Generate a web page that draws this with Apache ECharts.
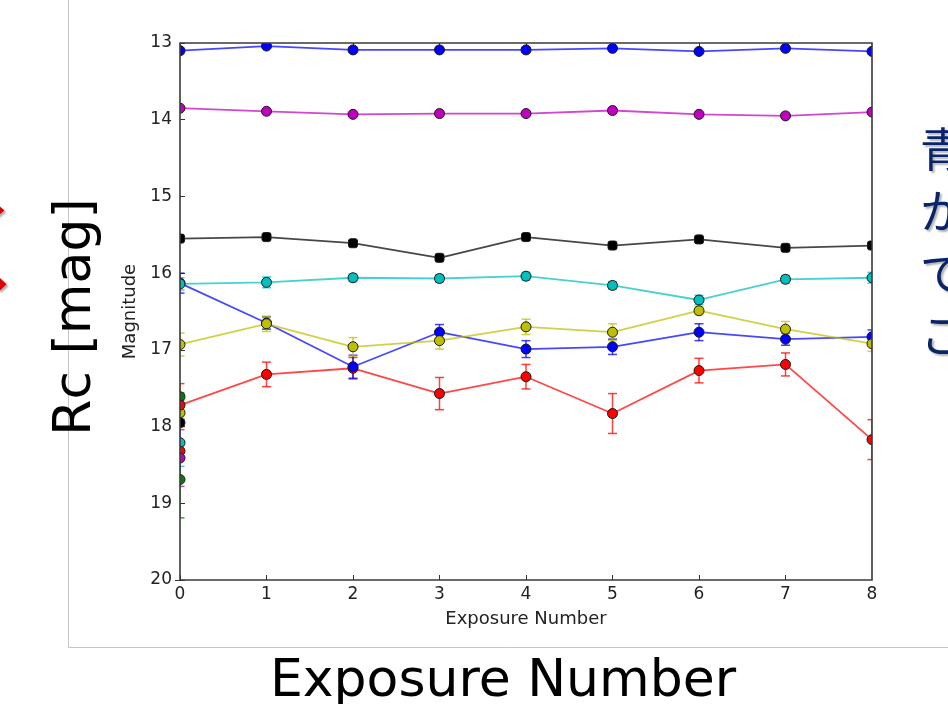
<!DOCTYPE html>
<html><head><meta charset="utf-8">
<script src="https://cdn.jsdelivr.net/npm/echarts@6/dist/echarts.min.js"></script>
<style>html,body{margin:0;padding:0;background:#fff}#c{width:948px;height:704px}</style>
</head><body><div id="c"></div>
<script>
// ---------- data ----------
const exposureNumbers = [0, 1, 2, 3, 4, 5, 6, 7, 8];
const xTickLabels = ['0', '1', '2', '3', '4', '5', '6', '7', '8'];
const yTickLabels = ['13', '14', '15', '16', '17', '18', '19', '20'];

const blueTopMag  = [13.10, 13.04, 13.09, 13.09, 13.09, 13.07, 13.11, 13.07, 13.11];
const blueTopErr  = [0.02, 0.02, 0.02, 0.02, 0.02, 0.02, 0.02, 0.02, 0.02];
const magentaMag  = [13.85, 13.89, 13.93, 13.92, 13.92, 13.88, 13.93, 13.95, 13.90];
const magentaErr  = [0.02, 0.02, 0.02, 0.02, 0.02, 0.02, 0.02, 0.02, 0.02];
const blackMag    = [15.55, 15.53, 15.61, 15.80, 15.53, 15.64, 15.56, 15.67, 15.64];
const blackErr    = [0.03, 0.03, 0.03, 0.03, 0.03, 0.03, 0.03, 0.03, 0.03];
const redMag      = [17.72, 17.32, 17.24, 17.57, 17.35, 17.83, 17.27, 17.19, 18.17];
const redErr      = [0.28, 0.16, 0.14, 0.21, 0.16, 0.26, 0.16, 0.15, 0.26];
const blueLowMag  = [16.13, 16.65, 17.22, 16.77, 16.99, 16.96, 16.77, 16.86, 16.83];
const blueLowErr  = [0.13, 0.08, 0.15, 0.10, 0.11, 0.10, 0.11, 0.08, 0.09];
const cyanMag     = [16.14, 16.12, 16.06, 16.07, 16.04, 16.16, 16.35, 16.08, 16.06];
const cyanErr     = [0.08, 0.07, 0.05, 0.05, 0.05, 0.05, 0.06, 0.05, 0.07];
const yellowMag   = [16.93, 16.66, 16.96, 16.88, 16.70, 16.77, 16.49, 16.73, 16.92];
const yellowErr   = [0.15, 0.10, 0.12, 0.11, 0.10, 0.11, 0.05, 0.10, 0.10];

// stars measured only on exposure 0
const singleExposureMag = [17.61, 17.82, 17.95, 18.21, 18.32, 18.41, 18.69];
const singleExposureErr = [0.05, 0.05, 0.04, 0.31, 0.08, 0.37, 0.50];

const slideYLabel = 'Rc [mag]';
const slideXLabel = 'Exposure Number';
const slideRightChars = ['青', 'か', 'で', 'こ'];
const slideLeftChar = 'く';

// ---------- styles ----------
const starStyles = [
  { mag: blueTopMag, err: blueTopErr, color: '#0000ff', symbol: 'circle' },
  { mag: magentaMag, err: magentaErr, color: '#bf00bf', symbol: 'circle' },
  { mag: blackMag,   err: blackErr,   color: '#000000', symbol: 'roundRect' },
  { mag: redMag,     err: redErr,     color: '#ff0000', symbol: 'circle' },
  { mag: blueLowMag, err: blueLowErr, color: '#0000ff', symbol: 'circle' },
  { mag: cyanMag,    err: cyanErr,    color: '#00bfbf', symbol: 'circle' },
  { mag: yellowMag,  err: yellowErr,  color: '#bfbf00', symbol: 'circle' }
];
const singleColors = ['#008000', '#bfbf00', '#000000', '#00bfbf', '#ff0000', '#bf00bf', '#008000'];

const FONT = "'DejaVu Sans', sans-serif";

function errorSeries(points, color) {
  return {
    type: 'custom',
    z: 2,
    silent: true,
    animation: false,
    clip: false,
    encode: { x: 0, y: 1 },
    data: points,
    renderItem: function (params, api) {
      const x = api.value(0), y = api.value(1), e = api.value(2);
      const t = api.coord([x, y - e]);
      const b = api.coord([x, y + e]);
      const w = 4.5;
      const st = { stroke: color, lineWidth: 1.5, opacity: 0.75 };
      return {
        type: 'group',
        children: [
          { type: 'line', shape: { x1: t[0], y1: t[1], x2: b[0], y2: b[1] }, style: st },
          { type: 'line', shape: { x1: t[0] - w, y1: t[1], x2: t[0] + w, y2: t[1] }, style: st },
          { type: 'line', shape: { x1: b[0] - w, y1: b[1], x2: b[0] + w, y2: b[1] }, style: st }
        ]
      };
    }
  };
}

const series = [];
starStyles.forEach(function (s) {
  series.push(errorSeries(exposureNumbers.map(function (x, i) { return [x, s.mag[i], s.err[i]]; }), s.color));
});
singleExposureMag.forEach(function (m, i) {
  series.push(errorSeries([[exposureNumbers[0], m, singleExposureErr[i]]], singleColors[i]));
});
singleExposureMag.forEach(function (m, i) {
  series.push({
    type: 'line', z: 3, animation: false, clip: false,
    data: [[exposureNumbers[0], m]],
    symbol: 'circle', symbolSize: 10,
    itemStyle: { color: singleColors[i], borderColor: '#1a1a1a', borderWidth: 1 },
    lineStyle: { width: 0 }
  });
});
starStyles.forEach(function (s) {
  series.push({
    type: 'line', z: 3, animation: false, clip: false,
    data: exposureNumbers.map(function (x, i) { return [x, s.mag[i]]; }),
    symbol: s.symbol, symbolSize: s.symbol === 'roundRect' ? 9 : 10,
    itemStyle: { color: s.color, borderColor: '#1a1a1a', borderWidth: 1 },
    lineStyle: { color: s.color, width: 1.8, opacity: 0.72 }
  });
});

const tickStyle = { show: true, inside: true, length: 5, lineStyle: { color: '#333', width: 1 } };
const yMin = Number(yTickLabels[0]), yMax = Number(yTickLabels[yTickLabels.length - 1]);
const xMin = Number(xTickLabels[0]), xMax = Number(xTickLabels[xTickLabels.length - 1]);

const chart = echarts.init(document.getElementById('c'), null, { renderer: 'canvas' });
chart.setOption({
  animation: false,
  backgroundColor: '#ffffff',
  grid: { left: 180, top: 43, width: 692, height: 537 },
  xAxis: [
    {
      type: 'value', min: xMin, max: xMax, interval: 1, position: 'bottom',
      name: 'Exposure Number', nameLocation: 'middle', nameGap: 30,
      nameTextStyle: { fontFamily: FONT, fontSize: 18, color: '#222' },
      axisLine: { show: false }, axisTick: tickStyle, splitLine: { show: false },
      axisLabel: { fontFamily: FONT, fontSize: 17, color: '#222', margin: 6,
        formatter: function (v) { return xTickLabels[Math.round(v - xMin)]; } }
    },
    {
      type: 'value', min: xMin, max: xMax, interval: 1, position: 'top',
      axisLine: { show: false }, axisTick: tickStyle, splitLine: { show: false },
      axisLabel: { show: false }
    }
  ],
  yAxis: [
    {
      type: 'value', min: yMin, max: yMax, interval: 1, inverse: true, position: 'left',
      name: 'Magnitude', nameLocation: 'middle', nameGap: 38, nameRotate: 90,
      nameTextStyle: { fontFamily: FONT, fontSize: 18, color: '#222' },
      axisLine: { show: false }, axisTick: tickStyle, splitLine: { show: false },
      axisLabel: { fontFamily: FONT, fontSize: 17, color: '#222', margin: 8,
        formatter: function (v) { return yTickLabels[Math.round(v - yMin)]; } }
    },
    {
      type: 'value', min: yMin, max: yMax, interval: 1, inverse: true, position: 'right',
      axisLine: { show: false }, axisTick: tickStyle, splitLine: { show: false },
      axisLabel: { show: false }
    }
  ],
  series: series
});

const p0 = chart.convertToPixel({ gridIndex: 0 }, [xMin, yMin]);
const p1 = chart.convertToPixel({ gridIndex: 0 }, [xMax, yMax]);
const pad = 7;
const graphics = [
  // clipping masks (matplotlib clips markers at axes edge)
  { type: 'rect', z: 50, silent: true, shape: { x: p0[0] - pad, y: p0[1] - pad, width: pad, height: p1[1] - p0[1] + pad }, style: { fill: '#ffffff' } },
  { type: 'rect', z: 50, silent: true, shape: { x: p1[0], y: p0[1] - pad, width: pad, height: p1[1] - p0[1] + pad }, style: { fill: '#ffffff' } },
  { type: 'rect', z: 50, silent: true, shape: { x: p0[0], y: p0[1] - pad, width: p1[0] - p0[0], height: pad }, style: { fill: '#ffffff' } },
  // axes frame
  { type: 'rect', z: 60, silent: true, shape: { x: p0[0], y: p0[1], width: p1[0] - p0[0], height: p1[1] - p0[1] }, style: { fill: 'none', stroke: '#3a3a3a', lineWidth: 1.6 } },
  // slide frame lines
  { type: 'line', z: 40, silent: true, shape: { x1: 68.5, y1: 0, x2: 68.5, y2: 647.5 }, style: { stroke: '#c4c4c4', lineWidth: 1 } },
  { type: 'line', z: 40, silent: true, shape: { x1: 68.5, y1: 647.5, x2: 948, y2: 647.5 }, style: { stroke: '#c4c4c4', lineWidth: 1 } },
  // slide labels
  { type: 'text', z: 70, silent: true, x: 76, y: 317, rotation: Math.PI / 2,
    style: { text: slideYLabel, font: "52px 'DejaVu Sans', sans-serif", fill: '#000', align: 'center', verticalAlign: 'middle' } },
  { type: 'text', z: 70, silent: true, x: 503, y: 682,
    style: { text: slideXLabel, font: "52px 'DejaVu Sans', sans-serif", fill: '#000', align: 'center', verticalAlign: 'middle' } },
  { type: 'text', z: 70, silent: true, x: -66, y: 246,
    style: { text: slideLeftChar, font: "100px 'Noto Sans CJK JP', sans-serif", fill: '#e00000', align: 'left', verticalAlign: 'middle',
      textShadowColor: 'rgba(0,0,0,0.3)', textShadowBlur: 2, textShadowOffsetX: 2, textShadowOffsetY: 2 } }
];
slideRightChars.forEach(function (ch, i) {
  graphics.push({ type: 'text', z: 70, silent: true, x: 920, y: 149 + i * 62,
    style: { text: ch, font: "46px 'Noto Sans CJK JP', sans-serif", fill: '#0b2468', align: 'left', verticalAlign: 'middle',
      textShadowColor: 'rgba(0,0,0,0.3)', textShadowBlur: 2, textShadowOffsetX: 2, textShadowOffsetY: 2 } });
});
chart.setOption({ graphic: graphics });
</script>
</body></html>
